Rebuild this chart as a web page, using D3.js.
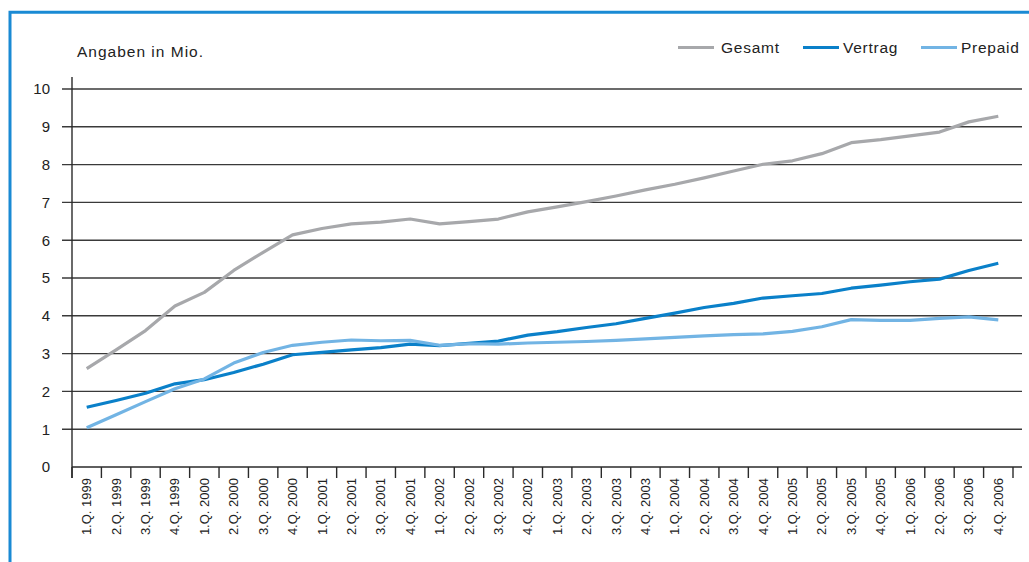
<!DOCTYPE html>
<html><head><meta charset="utf-8">
<script src="https://cdn.jsdelivr.net/npm/d3@7"></script>
<style>
html,body{margin:0;padding:0;background:#fff;}
svg{display:block;font-family:"Liberation Sans",Arial,sans-serif;}
</style></head>
<body>
<svg id="c" width="1029" height="562"></svg>
<script>
const categories = ["1.Q. 1999","2.Q. 1999","3.Q. 1999","4.Q. 1999",
  "1.Q. 2000","2.Q. 2000","3.Q. 2000","4.Q. 2000",
  "1.Q. 2001","2.Q. 2001","3.Q. 2001","4.Q. 2001",
  "1.Q. 2002","2.Q. 2002","3.Q. 2002","4.Q. 2002",
  "1.Q. 2003","2.Q. 2003","3.Q. 2003","4.Q. 2003",
  "1.Q. 2004","2.Q. 2004","3.Q. 2004","4.Q. 2004",
  "1.Q. 2005","2.Q. 2005","3.Q. 2005","4.Q. 2005",
  "1.Q. 2006","2.Q. 2006","3.Q. 2006","4.Q. 2006"];
const gesamt = [2.6,3.1,3.61,4.26,4.62,5.2,5.68,6.14,6.31,6.43,6.48,6.56,6.43,6.49,6.56,6.75,6.88,7.02,7.17,7.33,7.48,7.65,7.83,8.01,8.1,8.29,8.58,8.66,8.76,8.86,9.13,9.28];
const vertrag = [1.58,1.76,1.95,2.2,2.31,2.5,2.72,2.97,3.03,3.1,3.16,3.25,3.21,3.27,3.33,3.49,3.58,3.69,3.79,3.93,4.07,4.22,4.33,4.47,4.53,4.59,4.73,4.81,4.9,4.97,5.2,5.39];
const prepaid = [1.04,1.38,1.73,2.07,2.33,2.75,3.03,3.22,3.3,3.36,3.34,3.35,3.22,3.26,3.25,3.28,3.3,3.32,3.35,3.39,3.43,3.47,3.5,3.52,3.59,3.71,3.9,3.88,3.88,3.93,3.97,3.89];
const yTicks = [0,1,2,3,4,5,6,7,8,9,10];
const seriesNames = ["Gesamt","Vertrag","Prepaid"];
const seriesColors = ["#a7a8ab","#0a80c9","#72b4e4"];

const svg = d3.select("#c");
const pLeft = 72, pRight = 1013, gridRight = 1022, pTop = 89, pBottom = 467;
const x = d3.scaleBand().domain(categories).range([pLeft, pRight]).padding(0);
const y = d3.scaleLinear().domain([0, 10]).range([pBottom, pTop]);

// border
svg.append("path").attr("d", "M10,562 L10,12.2 L1029,12.2")
  .attr("fill","none").attr("stroke","#1a8ad4").attr("stroke-width",3);

// gridlines
svg.append("g").selectAll("line").data(yTicks.filter(d => d > 0)).join("line")
  .attr("x1", 62).attr("x2", gridRight)
  .attr("y1", d => y(d)).attr("y2", d => y(d))
  .attr("stroke", "#3a3a3a").attr("stroke-width", 1.4);

// x axis baseline
svg.append("line").attr("x1", pLeft).attr("x2", gridRight)
  .attr("y1", y(0)).attr("y2", y(0)).attr("stroke","#2a2a2a").attr("stroke-width",1.4);
// y axis line
svg.append("line").attr("x1", pLeft).attr("x2", pLeft)
  .attr("y1", 77).attr("y2", 478).attr("stroke","#2a2a2a").attr("stroke-width",1.4);

// y axis labels
const yAxis = svg.append("g").attr("transform", `translate(${pLeft},0)`)
  .call(d3.axisLeft(y).tickValues(yTicks).tickSize(0).tickPadding(22).tickFormat(d3.format("d")));
yAxis.select(".domain").remove();
yAxis.selectAll("text").attr("font-size", 15).attr("fill", "#222")
  .attr("font-family", '"Liberation Sans",Arial,sans-serif');

// x ticks at band boundaries
const bounds = categories.map(c => x(c)).concat([x(categories[categories.length-1]) + x.bandwidth()]);
svg.append("g").selectAll("line").data(bounds).join("line")
  .attr("x1", d => d).attr("x2", d => d).attr("y1", pBottom).attr("y2", 478)
  .attr("stroke","#2a2a2a").attr("stroke-width",1.4);

// x labels
const xAxis = svg.append("g").attr("transform", `translate(0,${pBottom})`)
  .call(d3.axisBottom(x).tickSize(0).tickPadding(0));
xAxis.select(".domain").remove();
xAxis.selectAll("text")
  .attr("font-size", 13).attr("fill", "#222")
  .attr("font-family", '"Liberation Sans",Arial,sans-serif')
  .attr("text-anchor", "end")
  .attr("transform", "translate(0,11) rotate(-90)")
  .attr("x", 0).attr("y", 0).attr("dy", "0.35em");

// lines
const line = d3.line().x((d, i) => x(categories[i]) + x.bandwidth() / 2).y(d => y(d));
[gesamt, vertrag, prepaid].forEach((s, k) => {
  svg.append("path").datum(s).attr("d", line)
    .attr("fill","none").attr("stroke", seriesColors[k])
    .attr("stroke-width", 3.2).attr("stroke-linejoin","round");
});

// title
svg.append("text").attr("x", 77).attr("y", 57).text("Angaben in Mio.")
  .attr("font-size", 15.5).attr("letter-spacing", 1.0).attr("fill", "#222");

// legend
const legX = [678, 803, 921];
seriesNames.forEach((n, k) => {
  const g = svg.append("g");
  g.append("line").attr("x1", legX[k]).attr("x2", legX[k] + 36)
    .attr("y1", 47.5).attr("y2", 47.5).attr("stroke", seriesColors[k]).attr("stroke-width", 3.2);
  g.append("text").attr("x", legX[k] + (k === 0 ? 43 : 40)).attr("y", 47.5).attr("dy", "0.35em")
    .text(n).attr("font-size", 15.5).attr("letter-spacing", 0.75).attr("fill", "#222");
});
</script>
</body></html>
